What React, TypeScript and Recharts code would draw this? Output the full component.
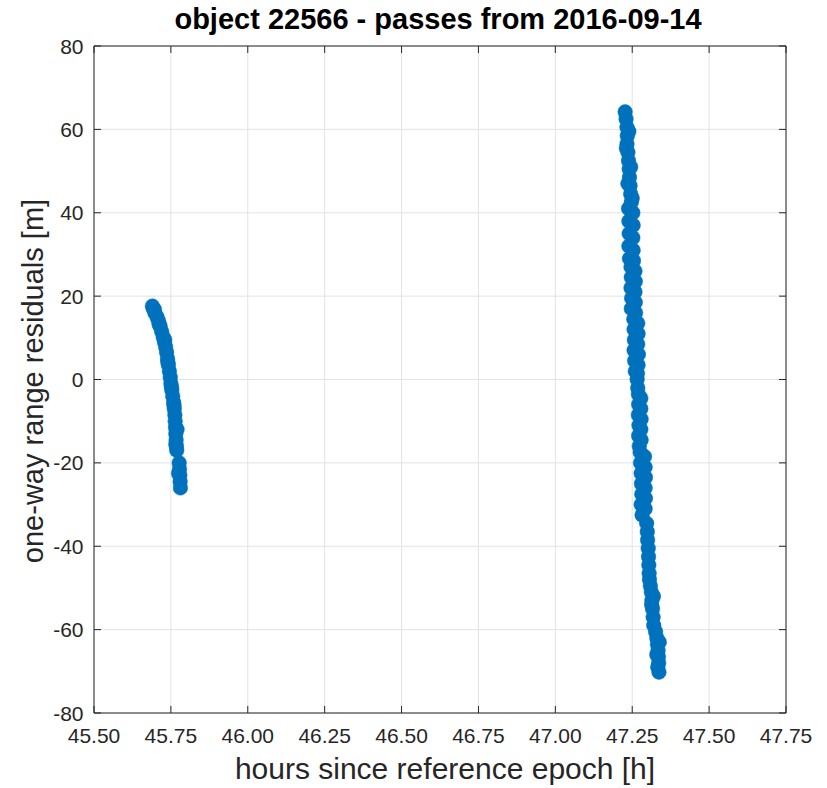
import React from 'react';
import { ScatterChart, Scatter, XAxis, YAxis, CartesianGrid } from 'recharts';

const xTicks = [45.5, 45.75, 46.0, 46.25, 46.5, 46.75, 47.0, 47.25, 47.5, 47.75];
const yTicks = [-80, -60, -40, -20, 0, 20, 40, 60, 80];

const titleText = 'object 22566 - passes from 2016-09-14';
const xLabelText = 'hours since reference epoch [h]';
const yLabelText = 'one-way range residuals [m]';

// Pass 1 (hours, metres)
const pass1X = [
  45.690, 45.693, 45.698, 45.705, 45.710, 45.715, 45.720, 45.725, 45.729, 45.733, 45.736, 45.739, 45.742, 45.745,
  45.748, 45.750, 45.753, 45.756, 45.759, 45.761, 45.763, 45.764, 45.765, 45.766, 45.767, 45.768, 45.769,
  45.777, 45.778, 45.779, 45.780, 45.781,
  45.696, 45.712, 45.730, 45.740, 45.752, 45.760, 45.770, 45.766, 45.775,
];
const pass1Y = [
  17.6, 17.0, 16.0, 15.0, 14.0, 12.8, 11.5, 10.2, 9.0, 7.8, 6.5, 5.0, 3.5, 2.0,
  0.5, -1.0, -2.5, -4.0, -5.5, -7.0, -8.5, -10.0, -11.5, -13.0, -14.5, -16.0, -17.0,
  -20.0, -21.5, -23.0, -24.5, -26.0,
  16.8, 13.2, 9.5, 4.2, -1.8, -6.2, -12.0, -15.5, -22.5,
];

// Pass 2 (hours, metres)
const pass2X = [
  47.227, 47.230, 47.233, 47.234, 47.233, 47.236, 47.238, 47.240, 47.241, 47.243, 47.245, 47.247,
  47.239, 47.231, 47.245, 47.236, 47.250,
  47.238, 47.252, 47.239, 47.253, 47.240, 47.252, 47.239, 47.253, 47.241, 47.254,
  47.246, 47.259, 47.247, 47.260, 47.246, 47.259, 47.248, 47.260, 47.247, 47.261,
  47.255, 47.268, 47.256, 47.269, 47.257, 47.268, 47.256, 47.270, 47.258, 47.269, 47.260, 47.267,
  47.266, 47.268,
  47.270, 47.278, 47.271, 47.278, 47.270, 47.279, 47.272, 47.278, 47.271, 47.279, 47.273,
  47.276, 47.290, 47.277, 47.292, 47.279, 47.293, 47.280, 47.292, 47.281, 47.293, 47.279, 47.292, 47.282,
  47.297, 47.299, 47.300, 47.302, 47.303, 47.304, 47.305, 47.306,
  47.309, 47.312, 47.314, 47.316, 47.318, 47.320, 47.313, 47.319,
  47.326, 47.330, 47.332, 47.334, 47.335, 47.336, 47.337, 47.330, 47.338, 47.333,
];
const pass2Y = [
  64.2, 62.5, 60.5, 58.5, 56.5, 54.5, 52.5, 50.5, 48.5, 46.5, 44.5, 42.5,
  59.5, 55.5, 51.0, 47.0, 43.5,
  41, 40, 38, 37, 35, 34, 32, 31, 29, 28.5,
  27, 26, 24.5, 23.5, 22, 21, 19.5, 18.5, 17, 16,
  14.5, 13.5, 12, 11, 9.5, 8.5, 7, 6, 4.5, 3.5, 2, 1.5,
  0, -2,
  -3.5, -4.5, -6, -7, -8.5, -9.5, -11, -12, -13.5, -14.5, -16,
  -17.5, -18.5, -20, -21, -22.5, -23.5, -25, -26, -27.5, -28.5, -30, -31, -32.5,
  -34.5, -36.5, -38.5, -40.5, -42.5, -44.5, -46.5, -48,
  -49.5, -51, -53, -55, -57, -59, -54, -52,
  -60.5, -62, -63.5, -65, -66.5, -68, -70.2, -66, -63, -69,
];

const data = [
  ...pass1X.map((x, i) => ({ x, y: pass1Y[i] })),
  ...pass2X.map((x, i) => ({ x, y: pass2Y[i] })),
];

const FONT = '"Liberation Sans", Arial, Helvetica, sans-serif';
const AXIS_COLOR = '#262626';
const MARKER = '#0072BD';
const TICK_LEN = 7;

const Dot = (props: any) => {
  const { cx, cy } = props;
  if (cx == null || cy == null) return null;
  return <circle cx={cx} cy={cy} r={7.3} fill={MARKER} stroke={MARKER} strokeWidth={0.5} />;
};

const NoDot = () => null;

const BottomTick = (props: any) => {
  const { x, y, payload } = props;
  return (
    <g>
      <line x1={x} y1={y} x2={x} y2={y - TICK_LEN} stroke={AXIS_COLOR} strokeWidth={1} />
      <text x={x} y={y + 30} textAnchor="middle" fontFamily={FONT} fontSize={21} fill={AXIS_COLOR}>
        {Number(payload.value).toFixed(2)}
      </text>
    </g>
  );
};

const TopTick = (props: any) => {
  const { x, y } = props;
  return <line x1={x} y1={y} x2={x} y2={y + TICK_LEN} stroke={AXIS_COLOR} strokeWidth={1} />;
};

const LeftTick = (props: any) => {
  const { x, y, payload } = props;
  return (
    <g>
      <line x1={x} y1={y} x2={x + TICK_LEN} y2={y} stroke={AXIS_COLOR} strokeWidth={1} />
      <text x={x - 10.5} y={y + 7.5} textAnchor="end" fontFamily={FONT} fontSize={21} fill={AXIS_COLOR}>
        {String(payload.value)}
      </text>
    </g>
  );
};

const RightTick = (props: any) => {
  const { x, y } = props;
  return <line x1={x} y1={y} x2={x - TICK_LEN} y2={y} stroke={AXIS_COLOR} strokeWidth={1} />;
};

export default function App() {
  return (
    <div style={{ position: 'absolute', left: 0, top: 0, width: 827, height: 788, background: '#fff' }}>
      <ScatterChart
        width={827}
        height={788}
        margin={{ top: 45, right: 40, bottom: 0, left: 0 }}
      >
        <CartesianGrid xAxisId="b" yAxisId="l" stroke="#e3e3e3" strokeWidth={1} />
        <XAxis
          xAxisId="b"
          dataKey="x"
          type="number"
          domain={[45.5, 47.75]}
          ticks={xTicks}
          interval={0}
          allowDataOverflow
          height={75}
          tickSize={0}
          tickMargin={0}
          tickLine={false}
          tick={<BottomTick />}
          axisLine={{ stroke: AXIS_COLOR }}
        />
        <XAxis
          xAxisId="t"
          orientation="top"
          dataKey="x"
          type="number"
          domain={[45.5, 47.75]}
          ticks={xTicks}
          interval={0}
          allowDataOverflow
          height={1}
          tickSize={0}
          tickMargin={0}
          tickLine={false}
          tick={<TopTick />}
          axisLine={{ stroke: AXIS_COLOR }}
        />
        <YAxis
          yAxisId="l"
          dataKey="y"
          type="number"
          domain={[-80, 80]}
          ticks={yTicks}
          interval={0}
          allowDataOverflow
          width={94}
          tickSize={0}
          tickMargin={0}
          tickLine={false}
          tick={<LeftTick />}
          axisLine={{ stroke: AXIS_COLOR }}
        />
        <YAxis
          yAxisId="r"
          orientation="right"
          dataKey="y"
          type="number"
          domain={[-80, 80]}
          ticks={yTicks}
          interval={0}
          allowDataOverflow
          width={1}
          tickSize={0}
          tickMargin={0}
          tickLine={false}
          tick={<RightTick />}
          axisLine={{ stroke: AXIS_COLOR }}
        />
        <Scatter xAxisId="t" yAxisId="r" data={data} shape={<NoDot />} isAnimationActive={false} />
        <Scatter xAxisId="b" yAxisId="l" data={data} shape={<Dot />} isAnimationActive={false} />
      </ScatterChart>
      <svg width={827} height={788} style={{ position: 'absolute', left: 0, top: 0, pointerEvents: 'none' }}>
        <text x={438} y={29} textAnchor="middle" fontFamily={FONT} fontWeight="bold" fontSize={29} fill="#000">
          {titleText}
        </text>
        <text x={445} y={779} textAnchor="middle" fontFamily={FONT} fontSize={30} fill={AXIS_COLOR}>
          {xLabelText}
        </text>
        <text
          x={43}
          y={381}
          textAnchor="middle"
          fontFamily={FONT}
          fontSize={29}
          fill={AXIS_COLOR}
          transform="rotate(-90 43 381)"
        >
          {yLabelText}
        </text>
      </svg>
    </div>
  );
}
